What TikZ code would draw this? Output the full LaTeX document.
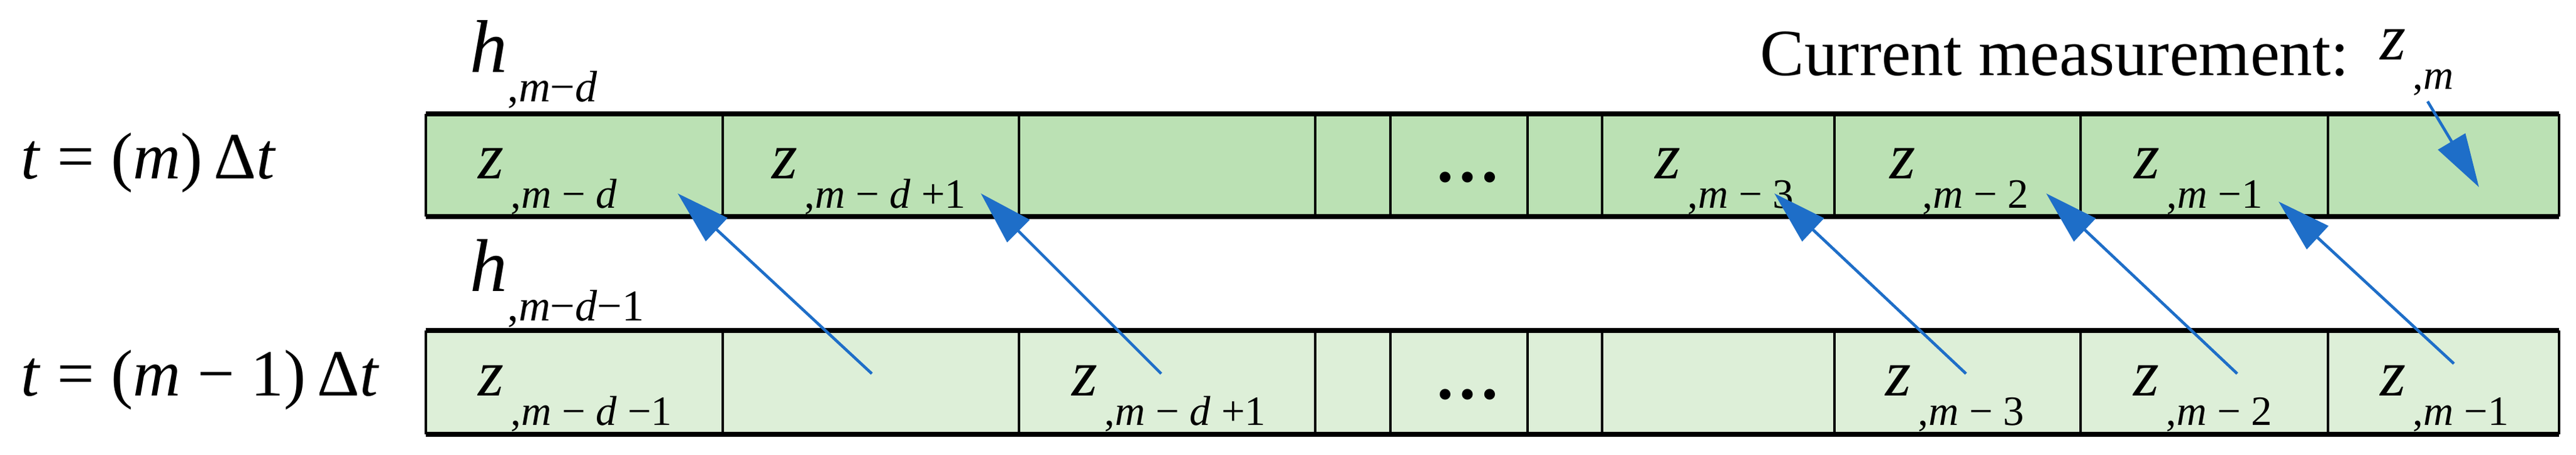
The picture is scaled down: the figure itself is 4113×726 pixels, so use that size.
\documentclass[tikz,border=0pt]{standalone}
\usepackage{fontspec}
\setmainfont{Liberation Serif}
\usetikzlibrary{arrows.meta}
\definecolor{gA}{HTML}{BBE1B4}
\definecolor{gB}{HTML}{DDEFD8}
\definecolor{arr}{HTML}{1E6EC8}
\newcommand{\zsub}[1]{\textit{z}\raisebox{-0.45em}{\fontsize{19}{19}\selectfont\,,#1}}
\begin{document}
\begin{tikzpicture}[x=0.01cm,y=-0.01cm,
  cellA/.style={draw=black,line width=1pt,fill=gA},
  cellB/.style={draw=black,line width=1pt,fill=gB},
  lbl/.style={font=\fontsize{30}{30}\selectfont,inner sep=0pt,anchor=base west},
  arrw/.style={draw=arr,line width=1.3pt,-{Triangle[length=0.85cm,width=0.5cm]},shorten >=0pt}]
\useasboundingbox (0,0) rectangle (4113,726);
\foreach \a/\b [count=\i] in {680/1154,1154/1627,1627/2100,2100/2220,2220/2439,2439/2558,2558/2929,2929/3322,3322/3717,3717/4086}{
  \fill[gA] (\a,182) rectangle (\b,346);
  \fill[gB] (\a,528) rectangle (\b,694);
  \draw[line width=1pt] (\a,182) -- (\a,346);
  \draw[line width=1pt] (\a,528) -- (\a,694);
}
\draw[line width=1pt] (4086,182) -- (4086,346);
\draw[line width=1pt] (4086,528) -- (4086,694);
\foreach \y in {182,346,528,694}{\draw[line width=2.2pt] (680,\y) -- (4086,\y);}
% labels
\node[lbl] (t1) at (33,285) {\textit{t} = (\textit{m})\,Δ\textit{t}};
\node[lbl] (t2) at (33,632) {\textit{t} = (\textit{m} − 1)\,Δ\textit{t}};
\node[lbl,font=\fontsize{34}{34}\selectfont] (h1) at (750,115) {\textit{h}\raisebox{-0.4em}{\fontsize{20}{20}\selectfont,\textit{m}−\textit{d}}};
\node[lbl,font=\fontsize{34}{34}\selectfont] (h2) at (750,465) {\textit{h}\raisebox{-0.4em}{\fontsize{20}{20}\selectfont,\textit{m}−\textit{d}−1}};
\node[lbl] (cm) at (2810,120) {Current measurement:};
\node[lbl] (zm) at (3800,95) {\zsub{\textit{m}}};
% row 1
\node[lbl] (a1) at (763,285) {\zsub{\textit{m} − \textit{d}}};
\node[lbl] (a2) at (1232,285) {\zsub{\textit{m} − \textit{d} +1}};
\node[lbl] (a3) at (2290,290) {\textbf{…}};
\node[lbl] (a4) at (2642,285) {\zsub{\textit{m} − 3}};
\node[lbl] (a5) at (3017,285) {\zsub{\textit{m} − 2}};
\node[lbl] (a6) at (3407,285) {\zsub{\textit{m} −1}};
% row 2
\node[lbl] (b1) at (763,632) {\zsub{\textit{m} − \textit{d} −1}};
\node[lbl] (b2) at (1711,632) {\zsub{\textit{m} − \textit{d} +1}};
\node[lbl] (b3) at (2290,637) {\textbf{…}};
\node[lbl] (b4) at (3010,632) {\zsub{\textit{m} − 3}};
\node[lbl] (b5) at (3406,632) {\zsub{\textit{m} − 2}};
\node[lbl] (b6) at (3800,632) {\zsub{\textit{m} −1}};
% arrow endpoints
\coordinate (s1) at (1392,597); \coordinate (e1) at (1082,309);
\coordinate (s2) at (1854,597); \coordinate (e2) at (1566,309);
\coordinate (s3) at (3139,597); \coordinate (e3) at (2833,309);
\coordinate (s4) at (3572,597); \coordinate (e4) at (3267,309);
\coordinate (s5) at (3918,581); \coordinate (e5) at (3638,322);
\coordinate (s6) at (3876,162); \coordinate (e6) at (3958,299);
\foreach \i in {1,...,6}{\draw[arrw] (s\i) -- (e\i);}
\end{tikzpicture}
\end{document}
